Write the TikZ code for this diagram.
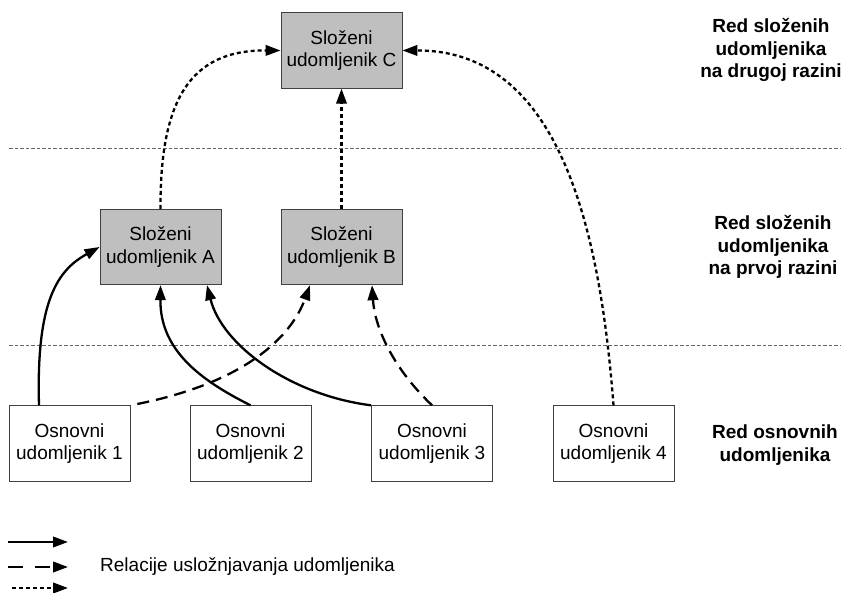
\documentclass[tikz,border=0pt]{standalone}
\usepackage{fontspec}
\setmainfont{Liberation Sans}
\usetikzlibrary{arrows.meta}
\begin{document}
\begin{tikzpicture}[x=1pt,y=-1pt,
  box/.style={draw=black!75, line width=0.9pt, minimum width=121pt, minimum height=75.5pt, inner sep=0pt, align=center, font=\fontsize{19}{22.5}\selectfont},
  cbox/.style={box, fill=black!25},
  lvl/.style={align=center, font=\fontsize{19}{22.5}\selectfont\bfseries},
  rel/.style={line width=2.3pt, -{Triangle[length=15pt,width=10.5pt]}},
  reldash/.style={rel, dash pattern=on 12pt off 7pt},
  reldot/.style={rel, dash pattern=on 4pt off 3pt},
  sep/.style={draw=black!60, line width=0.8pt, dash pattern=on 3.5pt off 2pt}
]
\path[use as bounding box] (0,0) rectangle (841,592);

% separators
\coordinate (s1a) at (9,148.5);
\coordinate (s1b) at (841,148.5);
\coordinate (s2a) at (9,345);
\coordinate (s2b) at (841,345);
\draw[sep] (s1a) -- (s1b);
\draw[sep] (s2a) -- (s2b);

% nodes
\node[cbox] (C) at (341.5,50.5) {Složeni\\udomljenik C};
\node[cbox] (A) at (160.5,247) {Složeni\\udomljenik A};
\node[cbox] (B) at (341.5,247) {Složeni\\udomljenik B};
\node[box] (O1) at (69.5,443.5) {Osnovni\\udomljenik 1};
\node[box] (O2) at (250.5,443.5) {Osnovni\\udomljenik 2};
\node[box] (O3) at (432,443.5) {Osnovni\\udomljenik 3};
\node[box] (O4) at (613.5,443.5) {Osnovni\\udomljenik 4};

% level labels
\node[lvl] (L2) at (771,50) {Red složenih\\udomljenika\\na drugoj razini};
\node[lvl] (L1) at (773,247) {Red složenih\\udomljenika\\na prvoj razini};
\node[lvl] (L0) at (775,445) {Red osnovnih\\udomljenika};

% connectors
\draw[rel] ([xshift=-30.5pt]O1.north) .. controls (36,300) and (58,270) .. (A.west);
\draw[rel] (O2.north) .. controls (200,380) and (160,350) .. (A.south);
\draw[rel] (O3.north west) .. controls (290,395) and (222,345) .. ([xshift=46.5pt]A.south);
\draw[reldash, dash phase=12pt] (O1.north east) .. controls (240,385) and (290,340) .. ([xshift=-31.5pt]B.south);
\draw[reldash] (O3.north) .. controls (395,370) and (375,330) .. ([xshift=30.5pt]B.south);
\draw[reldot] (A.north) .. controls (160,100) and (190,50) .. (C.west);
\draw[reldot] (B.north) -- (C.south);
\draw[reldot] (O4.north) .. controls (600,230) and (560,50) .. (C.east);

% legend
\coordinate (la1) at (8,542);
\coordinate (lb1) at (68,542);
\coordinate (la2) at (8,567);
\coordinate (lb2) at (68,567);
\coordinate (la3) at (12,588);
\coordinate (lb3) at (68,588);
\draw[rel] (la1) -- (lb1);
\draw[rel, dash pattern=on 15pt off 12pt] (la2) -- (lb2);
\draw[reldot] (la3) -- (lb3);
\node[anchor=west, inner sep=0pt, font=\fontsize{19}{22.5}\selectfont] (leg) at (100,567) {Relacije usložnjavanja udomljenika};
\end{tikzpicture}
\end{document}
